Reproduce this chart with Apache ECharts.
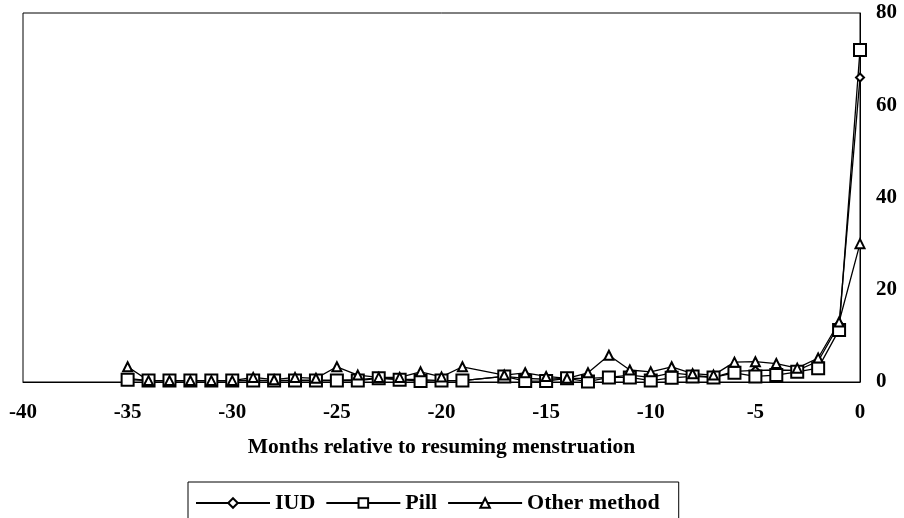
<!DOCTYPE html>
<html>
<head>
<meta charset="utf-8">
<script src="https://cdn.jsdelivr.net/npm/echarts@6/dist/echarts.min.js"></script>
<style>
html,body{margin:0;padding:0;background:#fff;}
#chart{width:904px;height:518px;}
</style>
</head>
<body>
<div id="chart"></div>
<script>
var months = [-35,-34,-33,-32,-31,-30,-29,-28,-27,-26,-25,-24,-23,-22,-21,-20,-19,-17,-16,-15,-14,-13,-12,-11,-10,-9,-8,-7,-6,-5,-4,-3,-2,-1,0];
var iud   = [0.8,0.3,0.3,0.3,0.3,0.3,0.4,0.3,0.4,0.4,0.4,0.5,0.9,0.6,0.5,0.3,0.3,1.2,0.8,0.6,0.8,0.8,1.0,1.5,1.0,2.0,1.5,1.0,2.3,2.5,2.6,2.5,4.5,12.5,66];
var pill  = [0.5,0.3,0.3,0.3,0.3,0.3,0.3,0.3,0.3,0.3,0.3,0.3,0.8,0.5,0.2,0.3,0.3,1.2,0.2,0.2,0.8,0.1,1.0,1.0,0.3,0.9,1.2,1.0,2.0,1.2,1.5,2.2,3.0,11.3,72];
var other = [3.3,0.3,0.3,0.3,0.3,0.3,1.0,0.5,1.0,0.8,3.3,1.5,1.0,1.0,2.2,1.1,3.3,1.5,2.0,1.2,0.8,2.0,5.8,2.6,2.2,3.3,1.8,1.5,4.3,4.4,4.0,3.0,5.2,13,30];
var seriesNames = ['IUD','Pill','Other method'];
var xTitle = 'Months relative to resuming menstruation';

function pairs(vals){ return months.map(function(m,i){ return [m, vals[i]]; }); }

var font = 'Liberation Serif';
var chart = echarts.init(document.getElementById('chart'), null, {renderer:'canvas'});
function mk(name, vals, symbol, size){
  return {
    name: name, type: 'line', data: pairs(vals),
    symbol: symbol, symbolSize: size, showAllSymbol: true,
    lineStyle: {color:'#000', width:1.3},
    itemStyle: {color:'#fff', borderColor:'#000', borderWidth:2},
    emphasis: {disabled:true}, animation:false
  };
}
chart.setOption({
  animation: false,
  backgroundColor: '#fff',
  grid: {left: 23, right: 44, top: 13, bottom: 136, show: true, borderColor: '#000', borderWidth: 1, containLabel: false},
  legend: {
    data: seriesNames, left: 188, top: 482,
    padding: [10, 19, 14, 7],
    itemWidth: 74, itemHeight: 12, itemGap: 10,
    borderColor: '#000', borderWidth: 1,
    textStyle: {fontFamily: font, fontWeight: 'bold', fontSize: 22, color: '#000'}
  },
  xAxis: {
    type: 'value', min: -40, max: 0, interval: 5,
    name: xTitle, nameLocation: 'middle', nameGap: 54,
    nameTextStyle: {fontFamily: font, fontWeight: 'bold', fontSize: 21.5, color: '#000'},
    axisLine: {show: true, onZero: false, lineStyle: {color:'#000', width:1}},
    axisTick: {show: false},
    splitLine: {show: false},
    axisLabel: {fontFamily: font, fontWeight: 'bold', fontSize: 21, color: '#000', margin: 20}
  },
  yAxis: {
    type: 'value', position: 'right', min: 0, max: 80, interval: 20,
    axisLine: {show: true, lineStyle: {color:'#000', width:1}},
    axisTick: {show: false},
    splitLine: {show: false},
    axisLabel: {fontFamily: font, fontWeight: 'bold', fontSize: 21, color: '#000', margin: 16}
  },
  series: [
    mk(seriesNames[0], iud, 'diamond', 8),
    mk(seriesNames[1], pill, 'rect', 12),
    mk(seriesNames[2], other, 'triangle', 9)
  ]
});
</script>
</body>
</html>
